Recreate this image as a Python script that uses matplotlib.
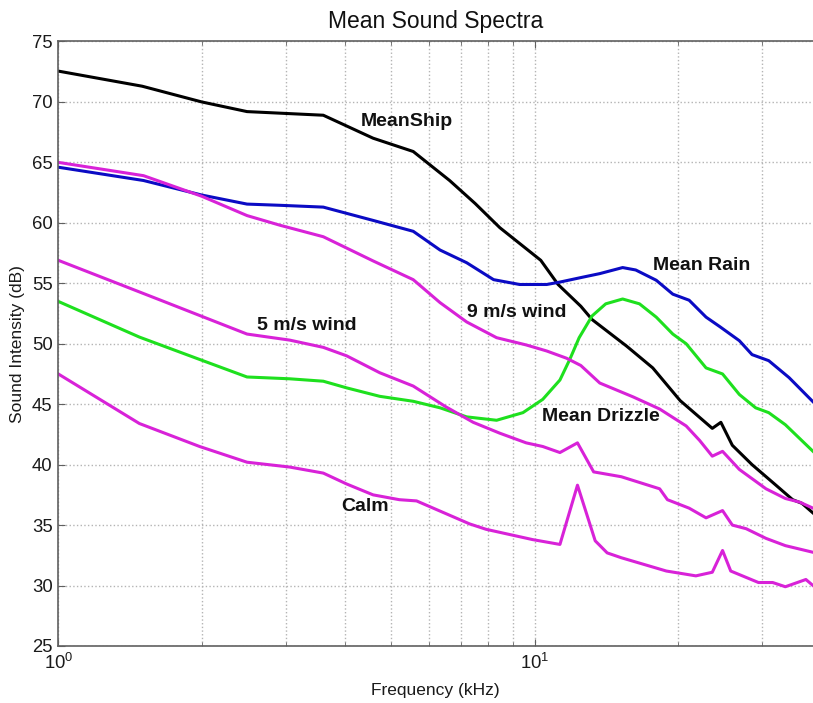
import numpy as np
import matplotlib
matplotlib.use('Agg')
import matplotlib.pyplot as plt
from matplotlib.ticker import LogLocator, MultipleLocator, NullFormatter

plt.rcParams['font.family'] = ['Liberation Sans', 'DejaVu Sans']
plt.rcParams['mathtext.fontset'] = 'custom'
plt.rcParams['mathtext.rm'] = 'Liberation Sans'

# ---------------------------------------------------------------------------
# data (frequency in kHz, level in dB)
# ---------------------------------------------------------------------------
ship_f = [1, 1.5, 2, 2.49, 3.6, 4.58, 5.56, 6.63, 7.5, 8.45, 10.3, 11.2, 12.5,
          13.2, 15.6, 17.7, 20.2, 23.6, 24.6, 26.0, 28.6, 32.1, 34.8, 36.4, 38.4]
ship_db = [72.55, 71.3, 70.0, 69.2, 68.9, 67.0, 65.9, 63.5, 61.6, 59.6, 56.9,
           54.9, 53.1, 52.0, 49.8, 48.0, 45.3, 43.0, 43.5, 41.6, 40.0, 38.3,
           37.1, 36.8, 36.0]

rain_f = [1, 1.51, 2, 2.49, 2.92, 3.6, 4.58, 5.56, 6.33, 7.2, 8.2, 9.3, 10.6,
          11.3, 12.6, 13.7, 15.3, 16.3, 18.0, 19.5, 21.1, 22.9, 24.5, 26.9,
          28.6, 31.0, 34.2, 38.4]
rain_db = [64.6, 63.5, 62.3, 61.55, 61.45, 61.3, 60.2, 59.3, 57.75, 56.7, 55.3,
           54.9, 54.9, 55.1, 55.5, 55.8, 56.3, 56.1, 55.25, 54.1, 53.6, 52.2,
           51.4, 50.25, 49.1, 48.6, 47.2, 45.2]

drizzle_f = [1, 1.48, 1.98, 2.49, 3.06, 3.6, 4.03, 4.73, 5.56, 6.33, 7.2, 8.32,
             9.45, 10.4, 11.3, 11.85, 12.4, 13.2, 14.1, 15.3, 16.6, 18.0, 19.5,
             20.8, 22.9, 24.8, 26.9, 29.1, 31.0, 33.6, 38.4]
drizzle_db = [53.5, 50.55, 48.7, 47.25, 47.1, 46.9, 46.35, 45.65, 45.24, 44.7,
              43.95, 43.67, 44.3, 45.4, 47.0, 48.7, 50.5, 52.3, 53.3, 53.7,
              53.3, 52.2, 50.8, 50.0, 48.0, 47.5, 45.8, 44.7, 44.3, 43.3, 41.1]

wind9_f = [1, 1.51, 2, 2.49, 2.92, 3.6, 4.58, 5.56, 6.33, 7.2, 8.32, 9.6, 10.6,
           11.67, 12.5, 13.7, 16.1, 18.3, 20.8, 22.2, 23.6, 24.8, 26.9, 30.6,
           33.6, 36.0, 38.4]
wind9_db = [65.0, 63.9, 62.2, 60.6, 59.8, 58.85, 56.85, 55.3, 53.4, 51.8, 50.5,
            49.9, 49.4, 48.8, 48.2, 46.75, 45.6, 44.6, 43.2, 42.0, 40.7, 41.1,
            39.6, 38.0, 37.2, 36.9, 36.4]

wind5_f = [1, 1.64, 2.49, 3.06, 3.6, 4.03, 4.73, 5.56, 6.5, 7.43, 8.45, 9.6,
           10.4, 11.3, 12.3, 13.3, 15.2, 18.3, 19.0, 21.1, 22.9, 24.8, 26.0,
           27.8, 30.6, 33.6, 38.4]
wind5_db = [56.9, 53.6, 50.8, 50.3, 49.7, 49.0, 47.6, 46.5, 44.8, 43.5, 42.6,
            41.8, 41.5, 41.0, 41.8, 39.4, 39.0, 38.0, 37.1, 36.4, 35.6, 36.2,
            35.0, 34.7, 33.9, 33.3, 32.75]

calm_f = [1, 1.48, 1.98, 2.49, 3.06, 3.6, 4.03, 4.58, 5.2, 5.65, 7.3, 7.91,
          9.9, 11.3, 12.3, 13.4, 14.2, 15.2, 18.9, 21.8, 23.6, 24.8, 25.8,
          29.5, 31.6, 33.6, 37.1, 38.4]
calm_db = [47.5, 43.4, 41.5, 40.2, 39.8, 39.3, 38.4, 37.5, 37.1, 37.0, 35.1,
           34.65, 33.8, 33.4, 38.3, 33.7, 32.7, 32.3, 31.2, 30.8, 31.1, 32.9,
           31.2, 30.25, 30.25, 29.9, 30.5, 30.0]

labels = ['MeanShip', 'Mean Rain', '9 m/s wind', '5 m/s wind', 'Mean Drizzle', 'Calm']
label_f = [4.32, 17.7, 7.2, 2.61, 10.34, 3.93]
label_db = [68.4, 56.5, 52.6, 51.5, 44.0, 36.5]

# ---------------------------------------------------------------------------
# plot
# ---------------------------------------------------------------------------
fig = plt.figure(figsize=(8.13, 7.03), dpi=100)
ax = fig.add_axes([0.0717, 0.0811, 0.9283, 0.8599])

lw = 2.2
ax.plot(ship_f, ship_db, color='black', lw=lw)
ax.plot(rain_f, rain_db, color='#0b0bc4', lw=lw)
ax.plot(drizzle_f, drizzle_db, color='#1ee01e', lw=lw)
ax.plot(wind9_f, wind9_db, color='#d822d8', lw=lw)
ax.plot(wind5_f, wind5_db, color='#d822d8', lw=lw)
ax.plot(calm_f, calm_db, color='#d822d8', lw=lw)

for txt, f, db in zip(labels, label_f, label_db):
    ax.text(f, db, txt, fontsize=14, fontweight='bold', ha='left', va='center',
            color='#111111')

ax.set_xscale('log')
ax.set_xlim(1, 38.4)
ax.set_ylim(25, 75)
ax.yaxis.set_major_locator(MultipleLocator(5))
ax.xaxis.set_major_locator(LogLocator(base=10))
ax.xaxis.set_minor_locator(LogLocator(base=10, subs=np.arange(2, 10)))
ax.xaxis.set_minor_formatter(NullFormatter())

ax.grid(True, which='major', color='#b4b4b4', linestyle=':', linewidth=1.0)
ax.grid(True, which='minor', axis='x', color='#b4b4b4', linestyle=':', linewidth=1.0)

for side in ['left', 'bottom', 'top']:
    ax.spines[side].set_color('#606060')
    ax.spines[side].set_linewidth(1.2)
ax.spines['right'].set_visible(False)

ax.tick_params(which='both', direction='in', top=True, right=False,
               color='#606060', labelsize=13.3, labelcolor='#1a1a1a')
ax.tick_params(which='major', length=5)
ax.tick_params(which='minor', length=3)
ax.tick_params(axis='x', pad=5)
ax.tick_params(axis='y', pad=4)

ax.set_title('Mean Sound Spectra', fontsize=16.5, pad=10, color='#111111')
ax.set_xlabel('Frequency (kHz)', fontsize=12.5, labelpad=7, color='#1a1a1a')
ax.set_ylabel('Sound Intensity (dB)', fontsize=12.5, labelpad=5, color='#1a1a1a')

plt.savefig('out.png', dpi=100)
